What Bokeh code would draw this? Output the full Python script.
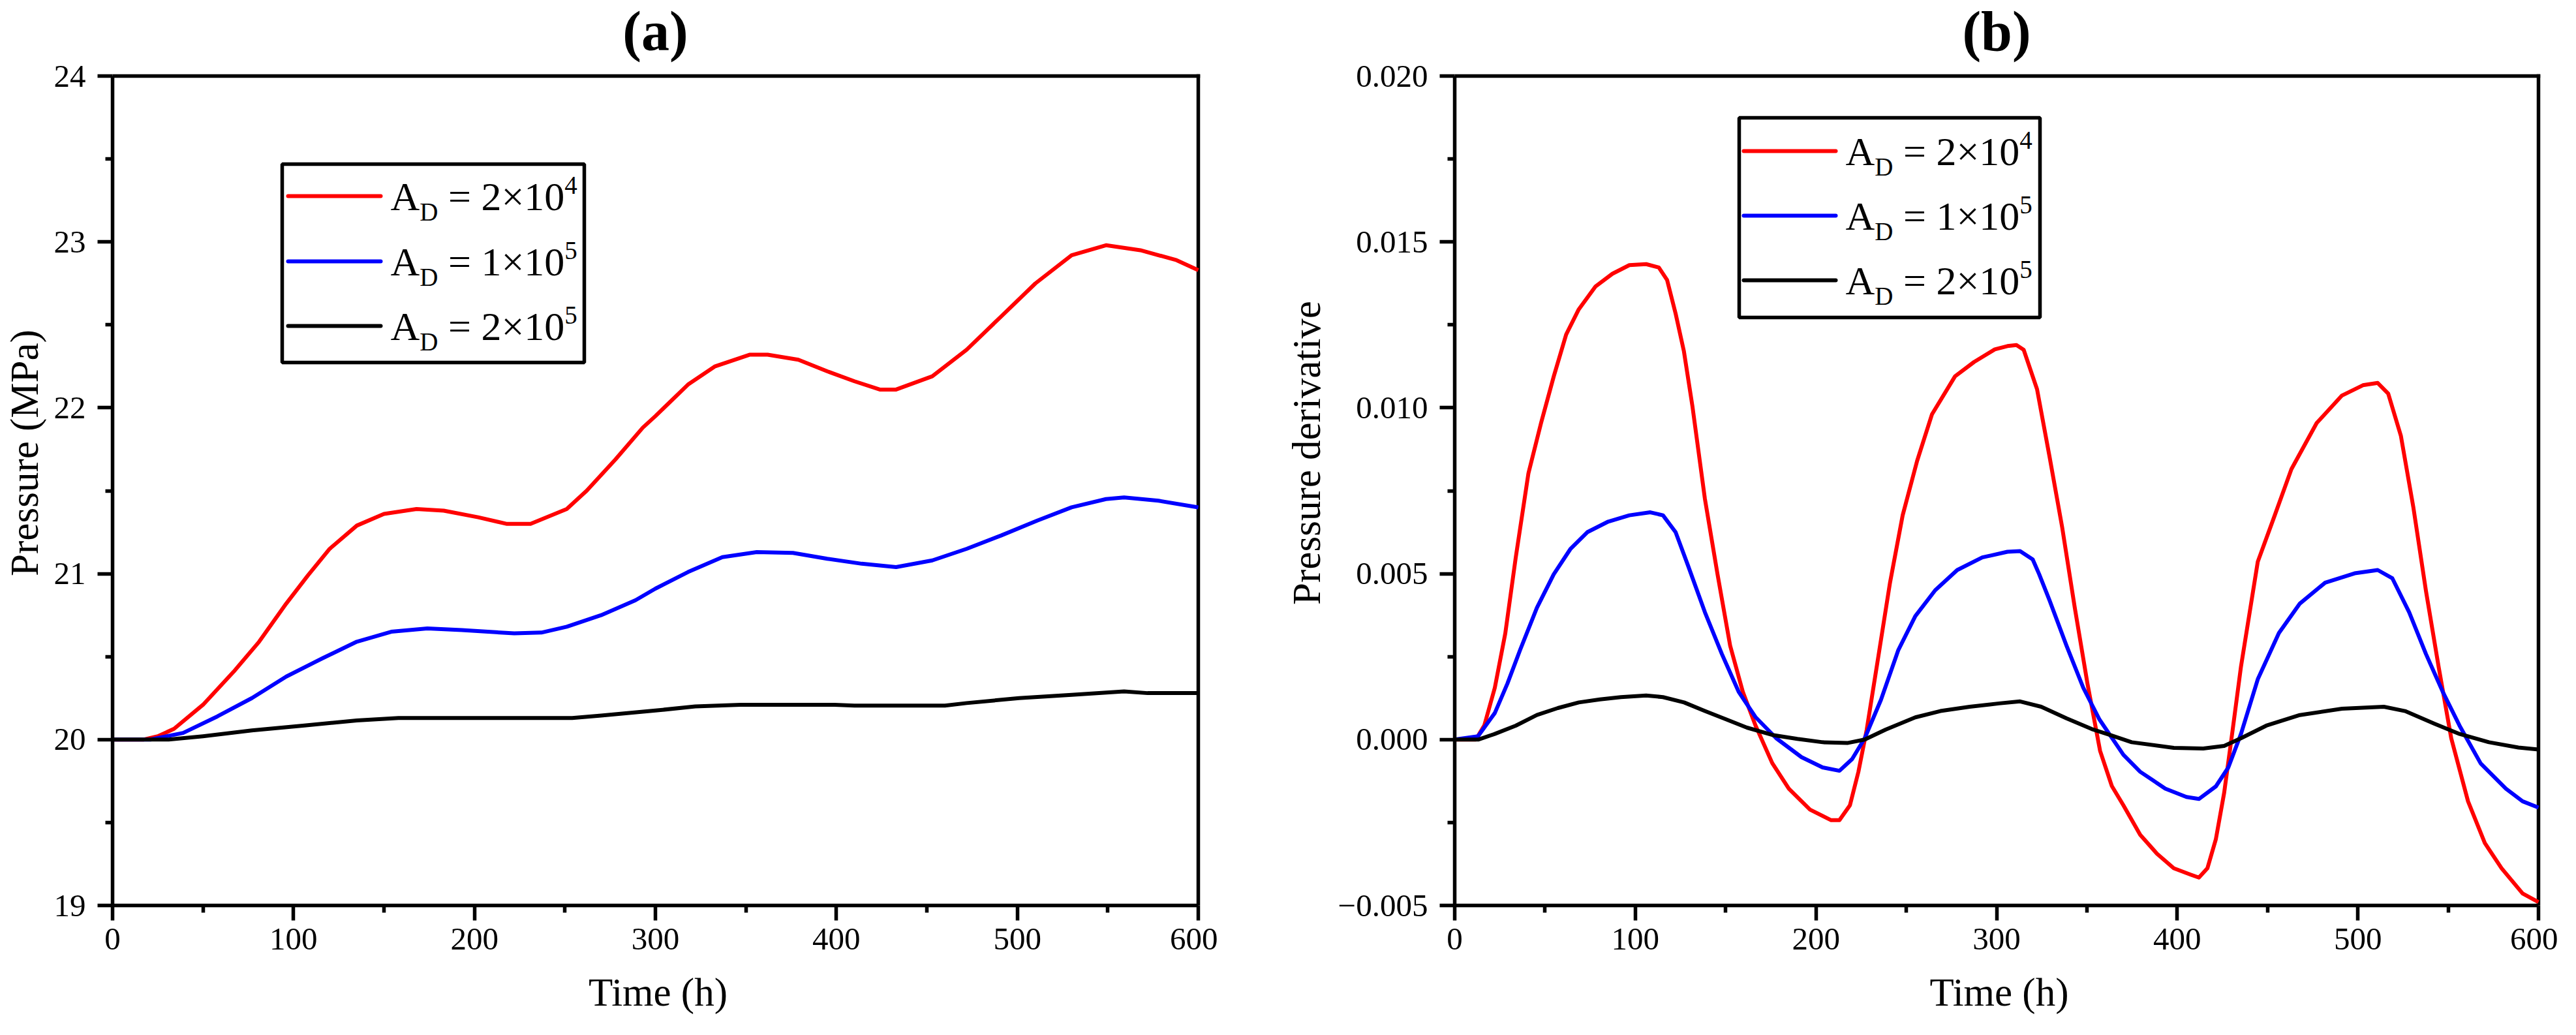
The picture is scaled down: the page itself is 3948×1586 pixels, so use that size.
from bokeh.plotting import figure
from bokeh.models import FixedTicker, Range1d, Label, BoxAnnotation, CustomJSTickFormatter
from bokeh.layouts import row
from bokeh.core.properties import value
from bokeh.embed import file_html
from bokeh.resources import INLINE

# ---------------- data ----------------
SERIES_LABELS = [("2", "4"), ("1", "5"), ("2", "5")]   # A_D = m x 10^e
COLORS = ["#ff0000", "#0000ff", "#000000"]
PANEL_TITLES = ["(a)", "(b)"]
X_LABEL = "Time (h)"
Y_LABELS = ["Pressure (MPa)", "Pressure derivative"]

X_LIM = (0, 600)
YA_LIM = (19, 24)
YB_LIM = (-0.005, 0.020)
X_TICKS = [0, 100, 200, 300, 400, 500, 600]
X_MINOR = [50, 150, 250, 350, 450, 550]
YA_TICKS = [19, 20, 21, 22, 23, 24]
YA_MINOR = [19.5, 20.5, 21.5, 22.5, 23.5]
YB_TICKS = [-0.005, 0.0, 0.005, 0.010, 0.015, 0.020]
YB_MINOR = [-0.0025, 0.0025, 0.0075, 0.0125, 0.0175]

# panel (a): pressure (MPa)
pa_red_t = [0, 17, 25, 34, 50, 67, 81, 96, 108, 120, 135, 150, 168, 183, 202, 218, 231, 251, 262,
            278, 293, 300, 318, 333, 352, 362, 379, 395, 410, 424, 433, 453, 472, 491, 510, 530,
            549, 568, 588, 600]
pa_red_p = [20.0, 20.0, 20.02, 20.065, 20.21, 20.41, 20.59, 20.82, 20.99, 21.15, 21.29, 21.36,
            21.39, 21.38, 21.34, 21.30, 21.30, 21.39, 21.50, 21.69, 21.88, 21.95, 22.14, 22.25,
            22.32, 22.32, 22.29, 22.22, 22.16, 22.11, 22.11, 22.19, 22.35, 22.55, 22.75, 22.92,
            22.98, 22.95, 22.89, 22.83]

pa_blue_t = [0, 21, 39, 58, 77, 96, 116, 135, 154, 174, 193, 222, 237, 251, 270, 289, 300, 318,
             337, 356, 376, 395, 414, 433, 453, 472, 491, 511, 530, 549, 559, 578, 600]
pa_blue_p = [20.0, 20.0, 20.04, 20.14, 20.25, 20.38, 20.49, 20.59, 20.65, 20.67, 20.66, 20.64,
             20.645, 20.68, 20.75, 20.84, 20.91, 21.01, 21.10, 21.13, 21.125, 21.09, 21.06,
             21.04, 21.08, 21.15, 21.23, 21.32, 21.40, 21.45, 21.46, 21.44, 21.40]

pa_black_t = [0, 31, 50, 77, 106, 135, 158, 254, 270, 300, 322, 347, 399, 410, 460, 472, 501,
              530, 559, 572, 600]
pa_black_p = [20.0, 20.0, 20.02, 20.055, 20.085, 20.115, 20.13, 20.13, 20.145, 20.175, 20.20,
              20.21, 20.21, 20.205, 20.205, 20.22, 20.25, 20.27, 20.29, 20.28, 20.28]

# panel (b): pressure derivative
pb_red_t = [0, 11.7, 16.4, 22.2, 28, 33.8, 40.8, 47.8, 54.8, 61.7, 68.7, 78, 87.3, 96.7, 106,
            113, 117.6, 122.3, 126.9, 131.6, 138.5, 145.5, 152.5, 159.5, 166.5, 175.8, 185,
            196.7, 208.4, 213, 218.8, 223.5, 228.1, 234, 241, 248, 256, 264.2, 277, 287.5, 299,
            306, 311, 315, 322.4, 329.3, 336.3, 343.3, 350.3, 357.3, 363.8, 370.2, 379.5,
            388.8, 398.1, 407.4, 412, 416.7, 421.4, 426, 430.7, 435.3, 444.6, 454, 463.2,
            477.2, 491.2, 502.8, 511, 516.8, 523.8, 530.7, 537.7, 544.7, 551.7, 561, 570.3,
            579.6, 591.2, 600]
pb_red_d = [0.0, 0.0, 0.00043, 0.00156, 0.0032, 0.00549, 0.00802, 0.00954, 0.01094, 0.01221,
            0.01297, 0.01366, 0.01404, 0.01430, 0.01433, 0.01423, 0.01385, 0.01284, 0.01170,
            0.01005, 0.00726, 0.00498, 0.00283, 0.00144, 0.00043, -0.00071, -0.00148, -0.00211,
            -0.00243, -0.00243, -0.00198, -0.00097, 0.0003, 0.00232, 0.00473, 0.00676, 0.0084,
            0.0098, 0.01095, 0.01138, 0.01176, 0.01186, 0.01189, 0.01175, 0.01056, 0.00853,
            0.0064, 0.00397, 0.00169, -0.00034, -0.00140, -0.00198, -0.00287, -0.00344,
            -0.00388, -0.00407, -0.00416, -0.00388, -0.003, -0.0016, 0.0003, 0.0022, 0.00536,
            0.00676, 0.00815, 0.00954, 0.01037, 0.01068, 0.01075, 0.01043, 0.00916, 0.00701,
            0.00448, 0.0022, 0.00004, -0.00186, -0.00312, -0.00388, -0.00464, -0.0049]

pb_blue_t = [0, 12.9, 22.2, 29.2, 36.2, 45.5, 54.8, 64, 73.4, 85, 96.7, 108.3, 115.3, 122.3,
             129.2, 138.5, 147.9, 157.2, 166.5, 178, 192, 203.7, 213, 220, 227, 236, 245.6,
             255, 266, 278.2, 292.1, 306, 313, 320, 323.6, 329.3, 338.7, 348, 357, 370.2,
             379.5, 393.4, 405.1, 412, 421.4, 428.3, 435.3, 444.6, 456.3, 467.9, 481.9, 498.2,
             511, 519.1, 528.4, 537.7, 547, 556.3, 568, 582, 591.2, 600]
pb_blue_d = [0.0, 0.0001, 0.0008, 0.00169, 0.0027, 0.00397, 0.00498, 0.00574, 0.00625,
             0.00657, 0.00676, 0.00685, 0.00676, 0.00625, 0.00524, 0.00384, 0.00258, 0.00144,
             0.00068, 0.00004, -0.00053, -0.00084, -0.00094, -0.00059, 0.00004, 0.0012,
             0.0027, 0.00372, 0.0045, 0.00511, 0.00549, 0.00566, 0.00568, 0.00543, 0.00498,
             0.00420, 0.00283, 0.00156, 0.0006, -0.00046, -0.00097, -0.00148, -0.00173,
             -0.00179, -0.00141, -0.00084, 0.00017, 0.00182, 0.00321, 0.0041, 0.00473,
             0.00501, 0.00511, 0.00486, 0.00384, 0.00258, 0.00144, 0.00042, -0.00072,
             -0.00148, -0.00186, -0.00205]

pb_black_t = [0, 13, 22.2, 33.8, 45.5, 57.1, 68.7, 80.4, 92, 106, 115.3, 127, 138.5, 150.2,
              161.8, 175.8, 189.7, 203.7, 217.7, 227, 238.6, 255, 268.9, 285.1, 301.4, 313,
              324.7, 338.7, 352.6, 363.8, 374.8, 398.1, 414.4, 426, 435.3, 449.3, 467.9,
              491.2, 514.4, 526.1, 542.4, 556.3, 572.6, 588.9, 600]
pb_black_d = [0.0, 0.0, 0.00017, 0.00042, 0.00074, 0.00095, 0.00112, 0.00121, 0.00128,
              0.00133, 0.00128, 0.00112, 0.00086, 0.00061, 0.00036, 0.00014, 0.00002,
              -0.00008, -0.0001, 0.0, 0.0003, 0.00067, 0.00086, 0.00099, 0.00109, 0.00115,
              0.00099, 0.00064, 0.00032, 0.00012, -0.00008, -0.00025, -0.00027, -0.00019,
              0.00004, 0.00042, 0.00074, 0.00093, 0.00099, 0.00086, 0.00048, 0.00017,
              -0.00008, -0.00024, -0.0003]

# ---------------- style / layout ----------------
FONT = "Liberation Serif"
PH = 1271          # height of the boxed plot area (px)
TOP_H = 116        # space above the box (title lives there, inside the frame)
EXT_R = 8          # frame extends a little right of the box so its border is not clipped
LW = 6             # curve width
AW = 5.5           # axis / tick / box width


class Mapper:
    """converts pixel offsets measured from the box's top-left corner to data values"""
    def __init__(self, xlim, ylim, w, h):
        self.xlim, self.ylim, self.w, self.h = xlim, ylim, w, h

    def x(self, px):
        return self.xlim[0] + (self.xlim[1] - self.xlim[0]) * px / self.w

    def y(self, py):
        return self.ylim[1] - (self.ylim[1] - self.ylim[0]) * py / self.h


def make_fig(title, ylabel, ylim, yticks, yminor, pw, border_left, ylabel_standoff, fmt=None):
    m = Mapper(X_LIM, ylim, pw, PH)
    p = figure(frame_width=pw + EXT_R, frame_height=TOP_H + PH,
               x_range=Range1d(X_LIM[0], m.x(pw + EXT_R)),
               y_range=Range1d(ylim[0], m.y(-TOP_H)),
               output_backend="svg", toolbar_location=None,
               min_border_left=border_left, min_border_right=30 - EXT_R,
               min_border_top=0, min_border_bottom=199)
    p.background_fill_color = "white"
    p.border_fill_color = "white"
    p.grid.visible = False
    p.outline_line_color = None

    for ax in (p.xaxis[0], p.yaxis[0]):
        ax.axis_line_width = AW
        ax.axis_line_color = "black"
        ax.major_tick_out = 23
        ax.major_tick_in = 0
        ax.minor_tick_out = 11
        ax.minor_tick_in = 0
        ax.major_tick_line_width = AW
        ax.minor_tick_line_width = AW
        ax.major_tick_line_color = "black"
        ax.minor_tick_line_color = "black"
        ax.major_label_text_font = FONT
        ax.major_label_text_font_size = "49px"
        ax.major_label_text_color = "black"
        ax.axis_label_text_font = FONT
        ax.axis_label_text_font_size = "61px"
        ax.axis_label_text_font_style = "normal"
        ax.axis_label_text_color = "black"

    xa, ya = p.xaxis[0], p.yaxis[0]
    xa.bounds = X_LIM
    xa.ticker = FixedTicker(ticks=X_TICKS, minor_ticks=X_MINOR)
    xa.axis_label = X_LABEL
    xa.major_label_standoff = 12
    xa.axis_label_standoff = 29

    ya.bounds = ylim
    ya.ticker = FixedTicker(ticks=yticks, minor_ticks=yminor)
    ya.axis_label = ylabel
    ya.major_label_standoff = 18
    ya.axis_label_standoff = ylabel_standoff
    if fmt is not None:
        ya.formatter = fmt

    # top and right edges of the box
    p.line([X_LIM[0], X_LIM[1]], [ylim[1], ylim[1]], line_color="black", line_width=AW,
           line_cap="square")
    p.line([X_LIM[1], X_LIM[1]], [ylim[0], ylim[1]], line_color="black", line_width=AW,
           line_cap="square")

    # panel title above the box
    p.text(x=[m.x(pw / 2)], y=[m.y(47 - TOP_H)], text=[title], text_font=value(FONT),
           text_font_size=value("86px"), text_font_style="bold", text_color="black",
           text_align="center", text_baseline="middle")
    return p, m


def add_legend(p, m, box, rows_y, line_x, text_x):
    p.add_layout(BoxAnnotation(left=m.x(box[0]), right=m.x(box[2]),
                               top=m.y(box[1]), bottom=m.y(box[3]),
                               fill_alpha=0, line_color="black", line_width=AW,
                               line_alpha=1, level="overlay"))
    F, f = 62, 39
    for (mm, e), c, ry in zip(SERIES_LABELS, COLORS, rows_y):
        p.line([m.x(line_x[0]), m.x(line_x[1])], [m.y(ry)] * 2,
               line_color=c, line_width=LW, line_cap="round")
        # (text, size, vertical centre offset in px (down +), x gap before, advance in em)
        pieces = [("A", F, 0, 0.0, 0.722),
                  ("D", f, 24, 0.0, 0.722),
                  ("= " + mm + "\u00d710", F, 0, 0.25 * F, 0.564 + 0.25 + 0.5 + 0.564 + 1.0),
                  (e, f, -17, 0.0, 0.5)]
        x = text_x
        for txt, size, dy, pre, adv in pieces:
            x += pre
            p.add_layout(Label(x=m.x(x), y=m.y(ry + dy), text=txt,
                               text_font=FONT, text_font_size=f"{size}px",
                               text_color="black", text_baseline="middle",
                               text_align="left"))
            x += adv * size


PW_A, PW_B = 1664, 1661
BL_A, BL_B = 172, 363

# panel a
pa, ma = make_fig(PANEL_TITLES[0], Y_LABELS[0], YA_LIM, YA_TICKS, YA_MINOR, PW_A, BL_A, 9)
for t, v, c in zip([pa_red_t, pa_blue_t, pa_black_t], [pa_red_p, pa_blue_p, pa_black_p], COLORS):
    pa.line(t, v, line_color=c, line_width=LW, line_join="round")
add_legend(pa, ma, (260, 135, 723, 439), (184, 284, 383), (269, 411), 426)

# panel b
fmt_b = CustomJSTickFormatter(code="""
    const s = Math.abs(tick).toFixed(3);
    return (tick < -1e-9 ? "\u2212" : "") + s;
""")
pb, mb = make_fig(PANEL_TITLES[1], Y_LABELS[1], YB_LIM, YB_TICKS, YB_MINOR, PW_B, BL_B, 12,
                  fmt_b)
for t, v, c in zip([pb_red_t, pb_blue_t, pb_black_t], [pb_red_d, pb_blue_d, pb_black_d], COLORS):
    pb.line(t, v, line_color=c, line_width=LW, line_join="round")
add_legend(pb, mb, (436, 64, 897, 370), (115, 214, 313), (443, 584), 599)

layout = row(pa, pb)
open("out.html", "w").write(file_html(layout, INLINE))
